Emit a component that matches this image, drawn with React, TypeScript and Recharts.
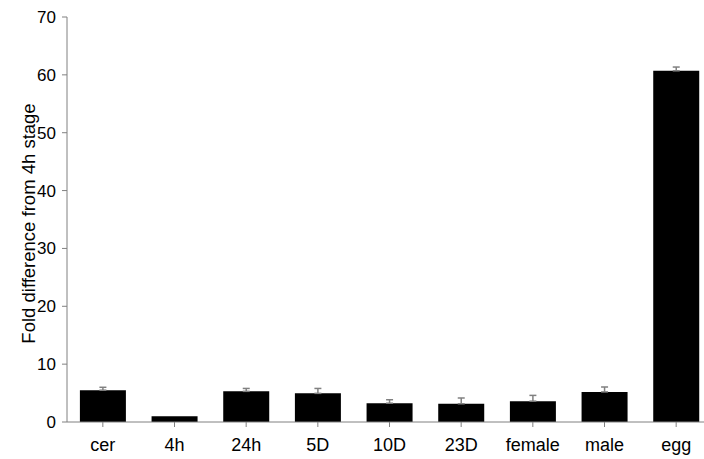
import { Bar, BarChart, ErrorBar, XAxis, YAxis } from "recharts";

const STAGES = ["cer", "4h", "24h", "5D", "10D", "23D", "female", "male", "egg"];
const FOLD = [5.5, 1.0, 5.3, 4.95, 3.25, 3.15, 3.6, 5.2, 60.7];
const FOLD_ERR = [0.5, null, 0.5, 0.85, 0.6, 1.0, 1.0, 0.85, 0.65];
const Y_TICKS = [0, 10, 20, 30, 40, 50, 60, 70];

const AXIS_GRAY = "#808080";
const FONT = '"Liberation Sans", Arial, sans-serif';

const data = STAGES.map((stage, i) => ({
  stage,
  fold: FOLD[i],
  // only the upper half of the error bar is drawn in the figure
  err: FOLD_ERR[i] == null ? null : [0, FOLD_ERR[i]],
}));

export default function App() {
  return (
    <div
      style={{
        position: "absolute",
        left: 0,
        top: 0,
        width: 704,
        height: 459,
        overflow: "hidden",
        background: "#fff",
      }}
    >
      <BarChart
        width={712}
        height={459}
        data={data}
        margin={{ top: 17, right: 0, left: 0, bottom: 0 }}
        barCategoryGap="18%"
      >
        <XAxis
          dataKey="stage"
          height={37}
          tick={{ fill: "#000", fontSize: 18, fontFamily: FONT }}
          tickSize={5}
          tickMargin={11}
          axisLine={{ stroke: AXIS_GRAY }}
          tickLine={{ stroke: AXIS_GRAY }}
          interval={0}
        />
        <YAxis
          domain={[0, 70]}
          ticks={Y_TICKS}
          width={67}
          tick={{ fill: "#000", fontSize: 17, fontFamily: FONT }}
          tickSize={5}
          tickMargin={6}
          axisLine={{ stroke: AXIS_GRAY }}
          tickLine={{ stroke: AXIS_GRAY }}
          label={{
            value: "Fold difference from 4h stage",
            angle: -90,
            position: "insideLeft",
            offset: 28,
            dy: 4,
            style: { textAnchor: "middle", fontSize: 18.5, fontFamily: FONT, fill: "#000" },
          }}
        />
        <Bar dataKey="fold" fill="#000" isAnimationActive={false}>
          <ErrorBar dataKey="err" width={3.5} stroke={AXIS_GRAY} strokeWidth={1.5} direction="y" />
        </Bar>
      </BarChart>
    </div>
  );
}
